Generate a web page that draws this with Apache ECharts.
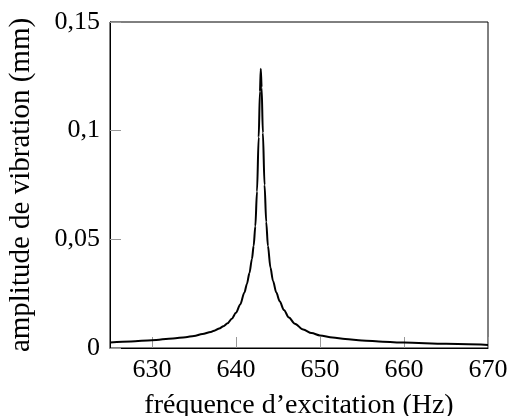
<!DOCTYPE html>
<html>
<head>
<meta charset="utf-8">
<script src="https://cdn.jsdelivr.net/npm/echarts@6/dist/echarts.min.js"></script>
<style>html,body{margin:0;padding:0;background:#fff}#c{width:509px;height:416px}</style>
</head>
<body>
<div id="c"></div>
<script>
const freq = [625, 627.5, 630, 632.5, 634, 635, 636, 637, 637.5, 638, 638.5, 639, 639.5, 640, 640.5, 641, 641.3, 641.6, 641.9, 642.1, 642.3, 642.5, 642.7, 642.85, 642.95, 643.05, 643.2, 643.4, 643.6, 643.8, 644.1, 644.4, 644.8, 645.2, 645.7, 646.3, 647, 648, 649, 650, 651.5, 653, 655, 657.5, 660, 665, 670];
const amplitude = [0.0025, 0.0030, 0.0036, 0.0044, 0.0050, 0.0055, 0.0064, 0.0074, 0.0081, 0.0090, 0.0100, 0.0114, 0.0135, 0.0162, 0.0200, 0.0255, 0.0295, 0.0345, 0.041, 0.047, 0.056, 0.072, 0.097, 0.118, 0.1285, 0.120, 0.099, 0.075, 0.058, 0.047, 0.037, 0.031, 0.0255, 0.0215, 0.0175, 0.0140, 0.0112, 0.0085, 0.0069, 0.0058, 0.0048, 0.0041, 0.0035, 0.0029, 0.0025, 0.0019, 0.0014];
const xTicks = [630, 640, 650, 660, 670];
const yTicks = [0, 0.05, 0.1, 0.15];
const xTitle = "fréquence d’excitation (Hz)";
const yTitle = "amplitude de vibration (mm)";

const font = "'Liberation Serif', serif";
const chart = echarts.init(document.getElementById('c'), null, {renderer: 'canvas'});
chart.setOption({
  animation: false,
  backgroundColor: '#fff',
  grid: {left: 110, right: 21, top: 22, bottom: 68, show: true, borderColor: '#000', borderWidth: 1, backgroundColor: 'transparent', containLabel: false, outerBoundsMode: 'none'},
  xAxis: {
    type: 'value', min: 625, max: 670,
    name: xTitle, nameLocation: 'middle', nameGap: 44,
    nameTextStyle: {fontFamily: font, fontSize: 28, color: '#000'},
    axisLine: {show: true, lineStyle: {color: '#000', width: 1}},
    axisTick: {show: true, inside: true, length: 11, customValues: xTicks, lineStyle: {color: '#999'}},
    axisLabel: {customValues: xTicks, fontFamily: font, fontSize: 26, color: '#000', margin: 9},
    splitLine: {show: false}
  },
  yAxis: {
    type: 'value', min: 0, max: 0.15,
    name: yTitle, nameLocation: 'middle', nameGap: 74,
    nameTextStyle: {fontFamily: font, fontSize: 29, color: '#000'},
    axisLine: {show: true, lineStyle: {color: '#000', width: 1}},
    axisTick: {show: true, inside: true, length: 11, customValues: yTicks, lineStyle: {color: '#999'}},
    axisLabel: {customValues: yTicks, fontFamily: font, fontSize: 26, color: '#000', margin: 10,
      formatter: v => String(+(+v).toFixed(4)).replace('.', ',')},
    splitLine: {show: false}
  },
  series: [{
    type: 'line',
    data: freq.map((f, i) => [f, amplitude[i]]),
    showSymbol: false,
    smooth: 0.3,
    smoothMonotone: 'x',
    lineStyle: {color: '#000', width: 2},
    clip: true
  }]
});
</script>
</body>
</html>
